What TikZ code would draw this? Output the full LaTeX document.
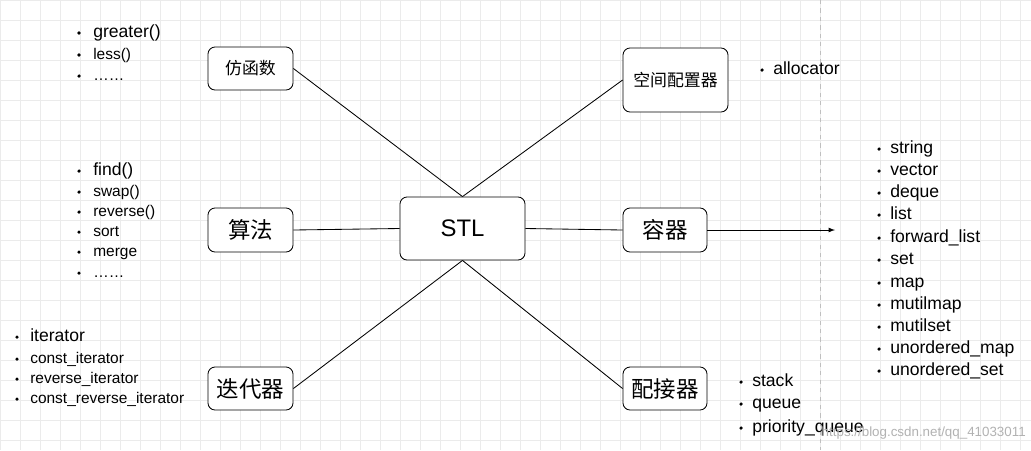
\documentclass[tikz,border=0pt]{standalone}
\usepackage{fontspec}
\setmainfont{Liberation Sans}
\newfontfamily\cjk{Noto Sans CJK SC}
\begin{document}
\begin{tikzpicture}[x=0.025cm,y=-0.025cm,
  box/.style={draw,rounded corners=5pt,line width=0.6pt,inner sep=0pt,fill=white},
  ln/.style={line width=0.6pt},
  it/.style={anchor=west,inner sep=0pt,text height=8pt,text depth=2pt,font=\fontsize{11}{12}\selectfont},
  itb/.style={anchor=west,inner sep=0pt,text height=9pt,text depth=2.5pt,font=\fontsize{12.5}{14}\selectfont},
  bul/.style={circle,fill=black,inner sep=0pt,minimum size=2.5pt}]
\fill[white] (0,0) rectangle (1031,450);
\useasboundingbox (0,0) rectangle (1031,450);
\draw[black!8,step=0.5cm] (0,0) grid (1031,450);
\draw[black!25,dashed] (820,0) -- (820,450);
\node[box,minimum width=85*0.025cm,minimum height=43*0.025cm,font=\cjk\fontsize{12}{14}\selectfont] (f) at (250.5,68.5) {仿函数};
\node[box,minimum width=105*0.025cm,minimum height=64*0.025cm,font=\cjk\fontsize{12}{14}\selectfont] (a) at (675.5,80) {空间配置器};
\node[box,minimum width=85*0.025cm,minimum height=44*0.025cm,font=\cjk\fontsize{16}{18}\selectfont] (g) at (250.5,230) {算法};
\node[box,minimum width=125*0.025cm,minimum height=63*0.025cm,font=\fontsize{17}{20}\selectfont] (s) at (462.5,228.5) {STL};
\node[box,minimum width=84*0.025cm,minimum height=44*0.025cm,font=\cjk\fontsize{16}{18}\selectfont] (c) at (665,230) {容器};
\node[box,minimum width=85*0.025cm,minimum height=43*0.025cm,font=\cjk\fontsize{16}{18}\selectfont] (i) at (250.5,388.5) {迭代器};
\node[box,minimum width=84*0.025cm,minimum height=43*0.025cm,font=\cjk\fontsize{16}{18}\selectfont] (p) at (665,388.5) {配接器};
\coordinate (end) at (835,230);
\draw[ln] (f.east) -- (s.north);
\draw[ln] (a.west) -- (s.north);
\draw[ln] (i.east) -- (s.south);
\draw[ln] (p.west) -- (s.south);
\draw[ln] (g.east) -- (s.west);
\draw[ln] (s.east) -- (c.west);
\draw[ln,-latex] (c.east) -- (end);
% lists
\foreach \y/\t/\s in {33/greater()/itb,55/less()/it,76/{……}/it,171/find()/itb,192/swap()/it,212/reverse()/it,232/sort/it,252/merge/it,273/{……}/it}
  {\node[bul] at (79,\y) {}; \node[\s] at (93,\y) {\t};}
\foreach \y/\t/\s in {337/iterator/itb,359/const\_iterator/it,379/reverse\_iterator/it,399/const\_reverse\_iterator/it}
  {\node[bul] at (17,\y) {}; \node[\s] at (30,\y) {\t};}
\node[bul] at (762,70) {}; \node[itb] at (773,70) {allocator};
\foreach \y/\t in {149/string,171/vector,193/deque,215/list,238/forward\_list,260/set,283/map,305/mutilmap,327/mutilset,349/unordered\_map,371/unordered\_set}
  {\node[bul] at (879,\y) {}; \node[itb] at (890,\y) {\t};}
\foreach \y/\t in {382/stack,404/queue,428/priority\_queue}
  {\node[bul] at (741,\y) {}; \node[itb] at (752,\y) {\t};}
\node[anchor=east,inner sep=0pt,text=black!30,font=\fontsize{9.5}{12}\selectfont] (w) at (1026,433) {https://blog.csdn.net/qq\_41033011};
\end{tikzpicture}
\end{document}
